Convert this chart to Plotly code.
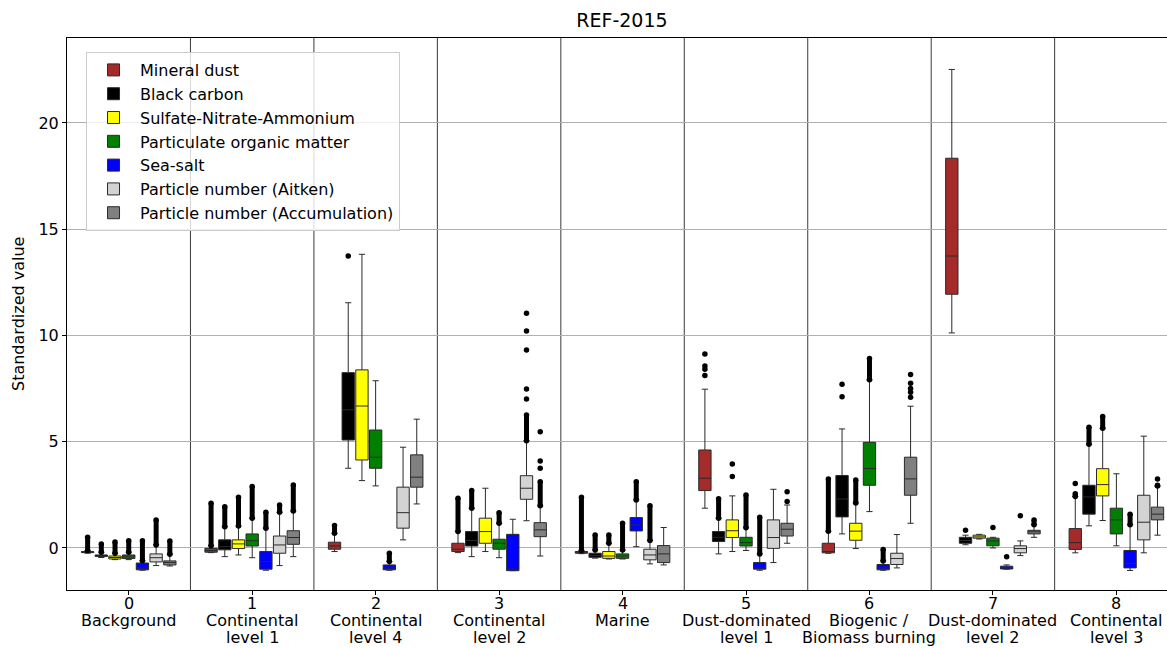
import plotly.graph_objects as go

clusters = [0, 1, 2, 3, 4, 5, 6, 7, 8]
tick_labels = ["0\nBackground", "1\nContinental\nlevel 1", "2\nContinental\nlevel 4",
               "3\nContinental\nlevel 2", "4\nMarine", "5\nDust-dominated\nlevel 1",
               "6\nBiogenic /\nBiomass burning", "7\nDust-dominated\nlevel 2",
               "8\nContinental\nlevel 3"]
y_ticks = [0, 5, 10, 15, 20]

names = ["Mineral dust", "Black carbon", "Sulfate-Nitrate-Ammonium", "Particulate organic matter",
         "Sea-salt", "Particle number (Aitken)", "Particle number (Accumulation)"]
colors = ["#A52A2A", "#000000", "#FFFF00", "#008000", "#0000FF", "#D3D3D3", "#808080"]

# per variable: lists over clusters 0..8
md_q1 = [-0.22, -0.20, -0.06, -0.17, -0.25, 2.70, -0.23, 11.94, -0.07]
md_med = [-0.20, -0.12, 0.09, -0.06, -0.20, 3.28, -0.17, 13.74, 0.25]
md_q3 = [-0.17, -0.02, 0.27, 0.22, -0.17, 4.61, 0.22, 18.34, 0.91]
md_lo = [-0.25, -0.22, -0.17, -0.22, -0.27, 1.87, -0.25, 10.12, -0.23]
md_hi = [-0.12, 0.10, 0.69, 0.77, -0.12, 7.47, 0.79, 22.52, 2.42]
md_dense = [0.50, 2.10, 1.05, 2.34, 2.38, None, 3.24, None, 2.55]
md_pts = [[], [], [], [], [], [8.11, 8.41, 8.56, 9.13], [], [], [3.03]]

bc_q1 = [-0.40, -0.09, 5.08, 0.09, -0.44, 0.30, 1.46, 0.22, 1.59]
bc_med = [-0.37, 0.06, 6.50, 0.35, -0.35, 0.50, 2.30, 0.35, 2.40]
bc_q3 = [-0.33, 0.38, 8.25, 0.77, -0.25, 0.77, 3.41, 0.50, 2.95]
bc_lo = [-0.45, -0.41, 3.75, -0.41, -0.48, -0.28, 0.66, 0.15, 1.04]
bc_hi = [-0.20, 1.00, 11.54, 1.87, -0.10, 1.40, 5.60, 0.60, 4.88]
bc_dense = [0.19, 1.94, None, 2.70, 0.61, 2.31, None, None, 5.68]
bc_pts = [[], [], [13.74], [], [], [], [7.12, 7.70], [0.83], []]

sna_q1 = [-0.52, -0.03, 4.14, 0.22, -0.49, 0.49, 0.36, 0.46, 2.45]
sna_med = [-0.45, 0.19, 6.68, 0.77, -0.38, 0.81, 0.79, 0.52, 2.98]
sna_q3 = [-0.38, 0.38, 8.38, 1.40, -0.17, 1.32, 1.16, 0.60, 3.73]
sna_lo = [-0.55, -0.33, 3.17, -0.17, -0.52, -0.17, -0.03, 0.42, 1.29]
sna_hi = [-0.25, 1.03, 13.82, 2.81, 0.22, 2.45, 2.12, 0.64, 5.63]
sna_dense = [0.28, 2.38, None, None, 0.61, None, 3.20, None, 6.18]
sna_pts = [[], [], [], [], [], [3.36, 3.95], [], [], []]

pom_q1 = [-0.50, 0.09, 3.75, -0.06, -0.49, 0.09, 2.95, 0.10, 0.66]
pom_med = [-0.42, 0.34, 4.27, 0.22, -0.38, 0.25, 3.74, 0.33, 1.32]
pom_q3 = [-0.33, 0.66, 5.55, 0.41, -0.28, 0.50, 4.97, 0.46, 1.87]
pom_lo = [-0.55, -0.46, 2.92, -0.46, -0.52, -0.12, 1.71, 0.00, 0.10]
pom_hi = [-0.20, 1.40, 7.87, 1.16, -0.10, 0.95, 7.91, 0.50, 3.49]
pom_dense = [0.34, 2.89, None, 1.66, 1.16, 2.49, 8.91, None, None]
pom_pts = [[], [], [], [], [], [], [], [0.96], []]

ss_q1 = [-1.03, -1.00, -1.03, -1.07, 0.80, -1.00, -1.03, -0.99, -0.94]
ss_med = [-0.95, -0.64, -0.95, -1.00, 1.08, -0.95, -0.95, -0.93, -0.73]
ss_q3 = [-0.71, -0.17, -0.80, 0.64, 1.43, -0.69, -0.78, -0.86, -0.12]
ss_lo = [-1.05, -1.05, -1.05, -1.07, 0.06, -1.05, -1.05, -1.00, -1.06]
ss_hi = [-0.60, 0.93, -0.64, 1.35, 2.26, -0.28, -0.61, -0.80, 1.09]
ss_dense = [0.34, 1.68, -0.25, None, 3.12, 1.44, -0.07, None, 1.59]
ss_pts = [[], [], [], [], [], [], [], [-0.41], []]

ait_q1 = [-0.66, -0.25, 0.93, 2.29, -0.56, -0.02, -0.78, -0.23, 0.38]
ait_med = [-0.46, 0.14, 1.66, 2.81, -0.33, 0.49, -0.50, -0.03, 1.21]
ait_q3 = [-0.28, 0.56, 2.86, 3.40, -0.06, 1.32, -0.25, 0.10, 2.48]
ait_lo = [-0.83, -0.83, 0.38, 1.28, -0.75, -0.69, -0.94, -0.36, -0.23]
ait_hi = [0.14, 1.68, 4.74, 5.05, 0.35, 2.76, 0.63, 0.33, 5.26]
ait_dense = [1.32, 2.02, None, 6.26, 1.98, None, None, None, None]
ait_pts = [[], [], [], [7.01, 7.48, 9.32, 10.21, 11.04], [], [], [], [1.51], []]

acc_q1 = [-0.80, 0.17, 2.86, 0.53, -0.69, 0.56, 2.48, 0.66, 1.32]
acc_med = [-0.69, 0.49, 3.33, 0.85, -0.28, 0.88, 3.25, 0.76, 1.59]
acc_q3 = [-0.61, 0.81, 4.38, 1.19, 0.11, 1.16, 4.27, 0.83, 1.92]
acc_lo = [-0.85, -0.41, 2.07, -0.38, -0.80, 0.22, 1.16, 0.50, 0.60]
acc_hi = [-0.30, 1.74, 6.06, 1.98, 0.96, 2.02, 6.67, 1.09, 2.91]
acc_dense = [0.33, 2.96, None, 3.12, None, None, None, 1.32, 2.95]
acc_pts = [[], [], [], [3.75, 4.09, 5.47], [], [2.18, 2.65], [7.09, 7.33, 7.50, 7.75, 8.16], [], [3.24]]

stats = [
    (md_q1, md_med, md_q3, md_lo, md_hi, md_dense, md_pts),
    (bc_q1, bc_med, bc_q3, bc_lo, bc_hi, bc_dense, bc_pts),
    (sna_q1, sna_med, sna_q3, sna_lo, sna_hi, sna_dense, sna_pts),
    (pom_q1, pom_med, pom_q3, pom_lo, pom_hi, pom_dense, pom_pts),
    (ss_q1, ss_med, ss_q3, ss_lo, ss_hi, ss_dense, ss_pts),
    (ait_q1, ait_med, ait_q3, ait_lo, ait_hi, ait_dense, ait_pts),
    (acc_q1, acc_med, acc_q3, acc_lo, acc_hi, acc_dense, acc_pts),
]

step = 0.111
box_w = 0.1
line_col = "#2a2a2a"
FONT = "DejaVu Sans"

fig = go.Figure()
nvar = len(names)
for j, (name, col, st) in enumerate(zip(names, colors, stats)):
    q1, med, q3, lo, hi, dense, pts = st
    xs = [c + (j - (nvar - 1) / 2) * step for c in clusters]
    fig.add_trace(go.Box(
        x=xs, q1=q1, median=med, q3=q3, lowerfence=lo, upperfence=hi,
        name=name, legendgroup=name, fillcolor=col,
        line=dict(color=line_col, width=1), width=box_w, whiskerwidth=0.5,
        boxpoints=False, orientation="v", hoverinfo="skip"))
    dx, dy = [], []
    for x, h, d in zip(xs, hi, dense):
        if d is not None:
            dx += [x, x, None]
            dy += [h, d, None]
    if dx:
        fig.add_trace(go.Scatter(x=dx, y=dy, mode="lines+markers",
                                 line=dict(color="black", width=5),
                                 marker=dict(color="black", size=5.5),
                                 showlegend=False, legendgroup=name, hoverinfo="skip"))
    px, py = [], []
    for x, p in zip(xs, pts):
        for v in p:
            px.append(x)
            py.append(v)
    if px:
        fig.add_trace(go.Scatter(x=px, y=py, mode="markers",
                                 marker=dict(color="black", size=5.5),
                                 showlegend=False, legendgroup=name, hoverinfo="skip"))

shapes = []
for c in clusters[:-1]:
    shapes.append(dict(type="line", xref="x", yref="paper", x0=c + 0.5, x1=c + 0.5,
                       y0=0, y1=1, line=dict(color="#3a3a3a", width=1), layer="below"))

annotations = []
line_shifts = [-13, -30, -47]
for c, lab in zip(clusters, tick_labels):
    for k, part in enumerate(lab.split("\n")):
        annotations.append(dict(x=c, xref="x", y=0, yref="paper", text=part,
                                showarrow=False, xanchor="center", yanchor="middle",
                                yshift=line_shifts[k], font=dict(size=16, family=FONT)))
annotations.append(dict(x=-49 / 1100, xref="paper", y=0.5, yref="paper",
                        text="Standardized value", textangle=-90, showarrow=False,
                        xanchor="center", yanchor="middle", font=dict(size=16, family=FONT)))

fig.update_layout(
    width=1167, height=648,
    margin=dict(l=67, r=0, t=38, b=58, autoexpand=False),
    plot_bgcolor="white", paper_bgcolor="white",
    font=dict(family=FONT, size=16, color="black"),
    title=dict(text="REF-2015", x=0.5045, xref="paper", xanchor="center",
               y=1 - 20 / 648, yref="container", yanchor="middle",
               font=dict(size=19)),
    shapes=shapes,
    annotations=annotations,
    showlegend=True,
    legend=dict(x=0.0173, y=0.9746, xanchor="left", yanchor="top",
                bgcolor="rgba(255,255,255,0.8)", bordercolor="#cccccc", borderwidth=1,
                font=dict(size=16), tracegroupgap=0, itemwidth=43),
    xaxis=dict(range=[-0.5, 8.41], tickmode="array", tickvals=clusters, showticklabels=False,
               showgrid=False, zeroline=False, showline=True, linecolor="black", mirror=True,
               ticks="outside", ticklen=4, tickcolor="black", automargin=False),
    yaxis=dict(range=[-1.98, 24.0], tickmode="array", tickvals=y_ticks,
               showgrid=True, gridcolor="#b0b0b0", gridwidth=1, zeroline=False,
               showline=True, linecolor="black", mirror=False,
               ticks="outside", ticklen=4, tickcolor="black", automargin=False,
               tickfont=dict(size=16)),
)

fig.write_html("out.html", config={"displayModeBar": False},
               post_script="document.body.style.margin='0';document.body.style.overflow='hidden';")
